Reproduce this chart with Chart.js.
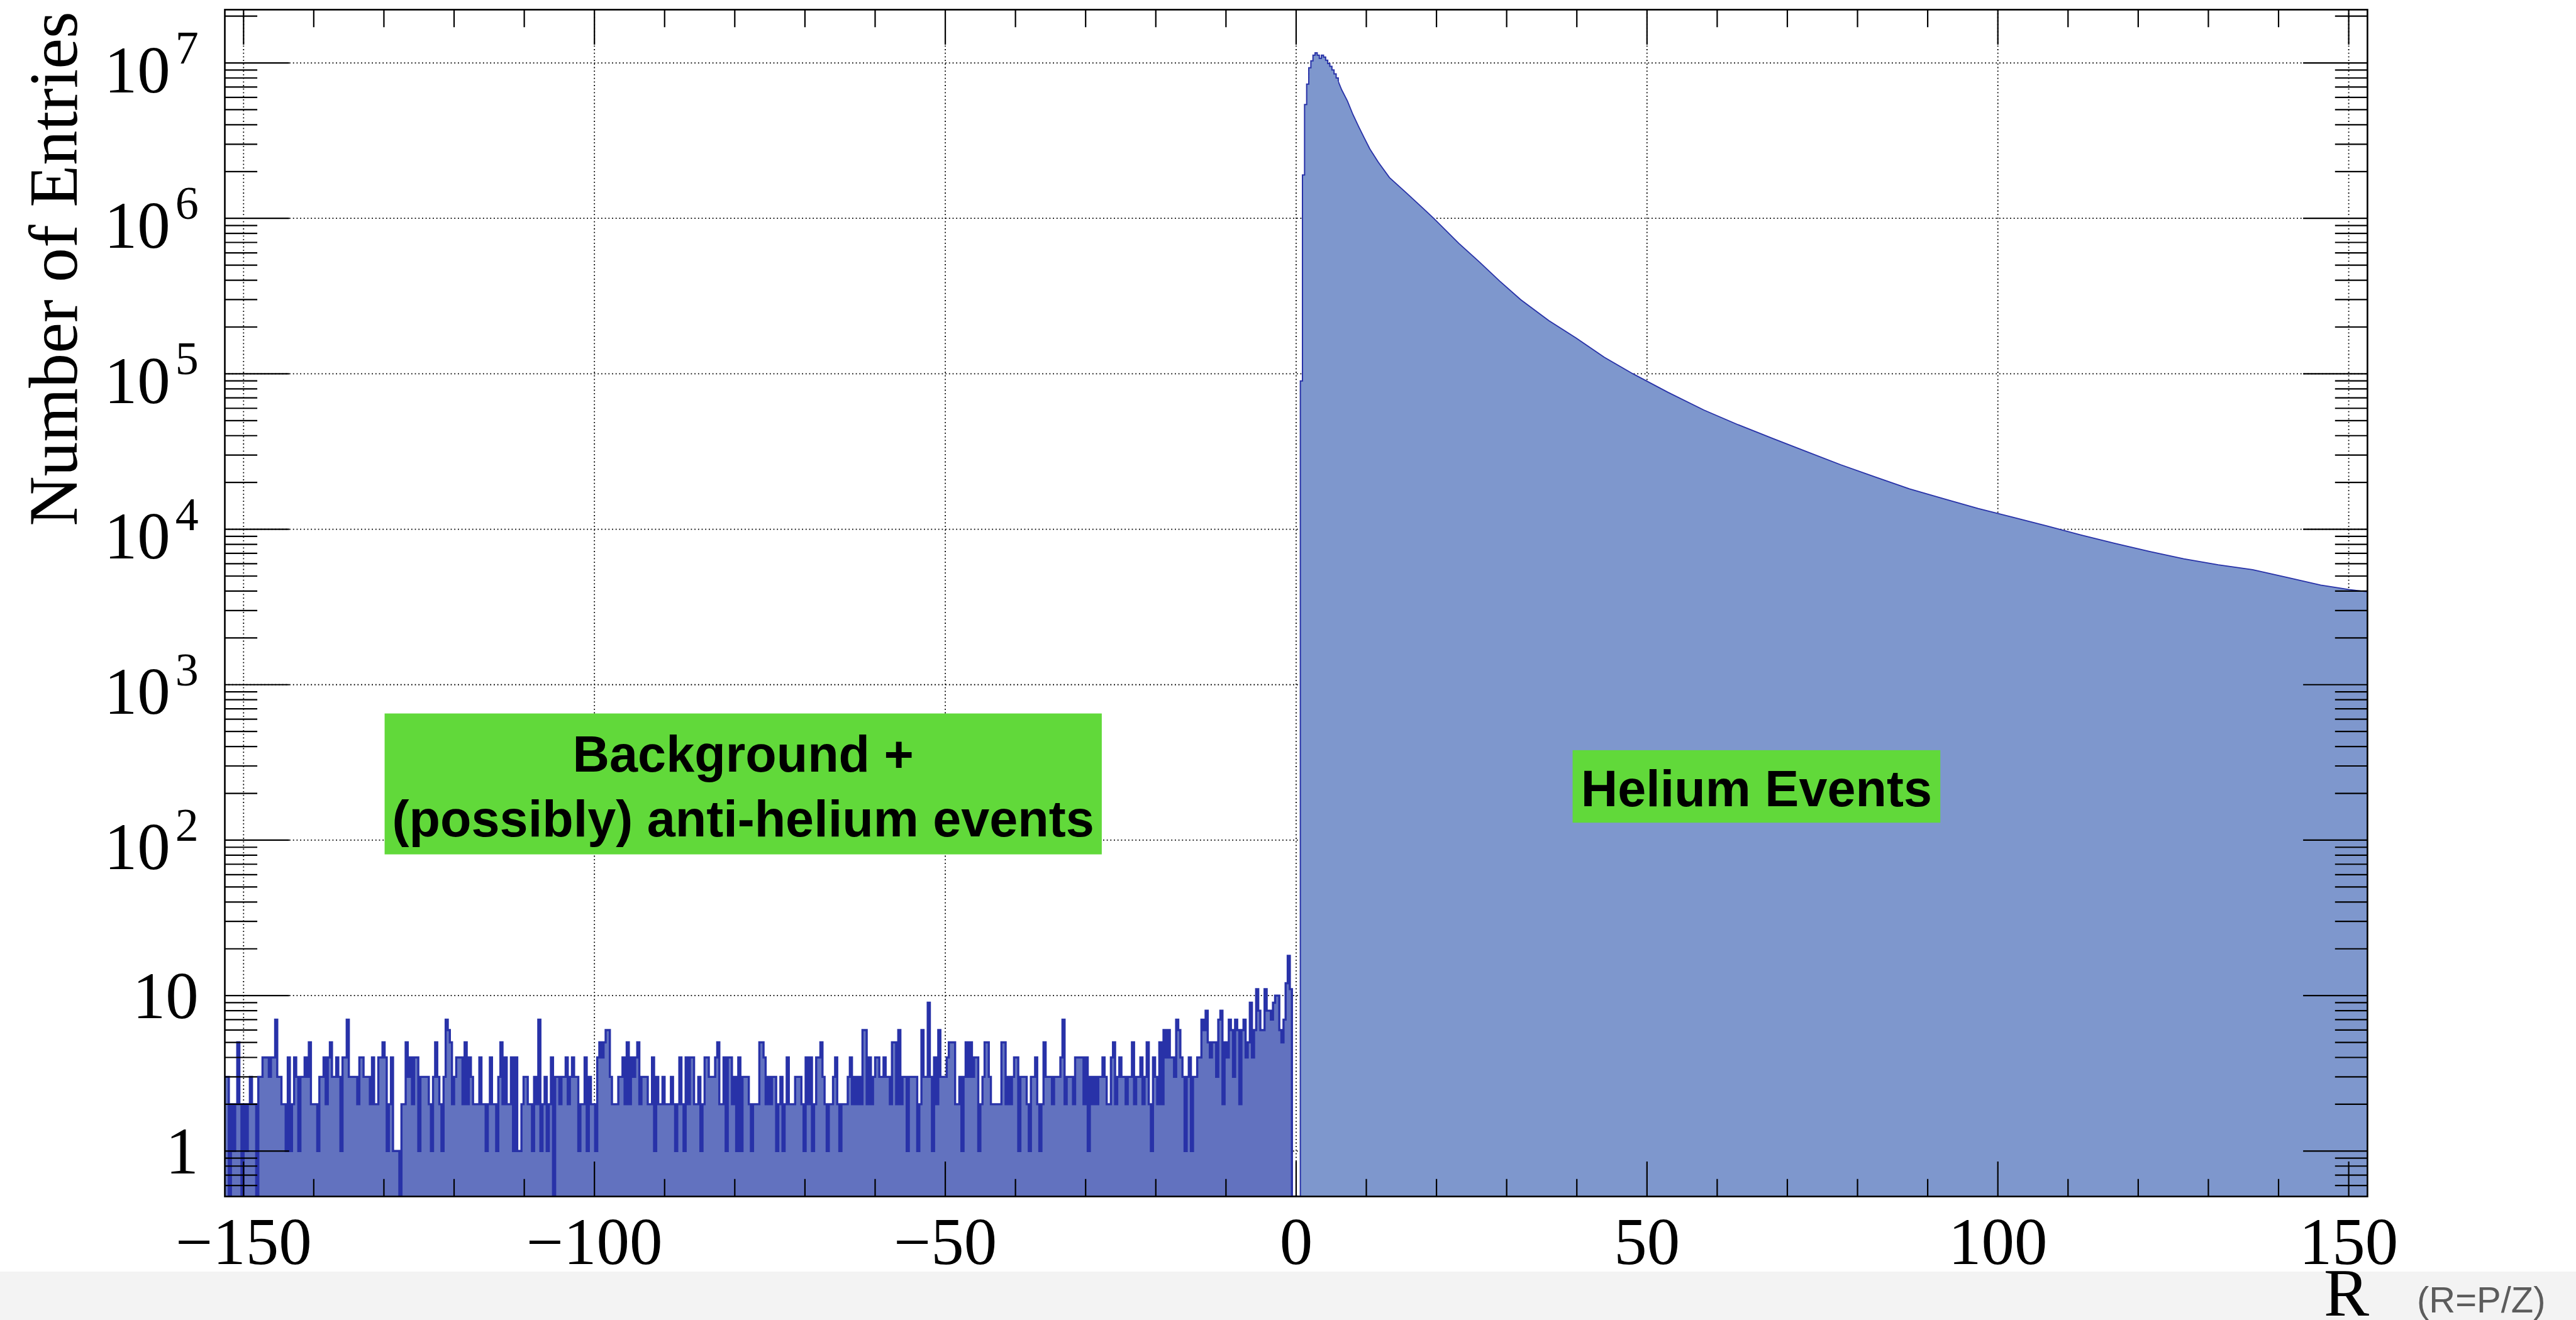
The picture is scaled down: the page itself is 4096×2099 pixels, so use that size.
<!DOCTYPE html>
<html><head><meta charset="utf-8">
<script src="https://cdn.jsdelivr.net/npm/chart.js@4.4.1/dist/chart.umd.min.js"></script>
<style>
html,body{margin:0;padding:0;background:#fff;overflow:hidden}
#wrap{position:relative;width:4096px;height:2099px}
#band{position:absolute;left:0;top:2022px;width:4096px;height:77px;background:#f3f3f3}
canvas{position:absolute;left:0;top:0}
</style></head><body>
<div id="wrap"><div id="band"></div><canvas id="c" width="4096" height="2099"></canvas></div>
<script>
// ---------------- data ----------------
const binStart = -152.7;   // left edge of first bin
const binWidth = 0.3;
// negative-rigidity background (counts per bin), read left to right
const countsA = [3,3,0,2,1,2,5,2,0,2, 1,2,3,2,2,0,3,3,4,4, 4,3,4,4,7,3,3,2,2,1, 4,1,2,4,3,1,3,3,4,3,
  5,2,2,2,1,3,3,4,2,4, 5,3,3,4,3,1,4,4,7,3, 3,3,3,2,4,4,3,3,3,2, 4,2,2,4,4,5,4,1,2,4,
  1,1,1,0,2,2,5,3,4,2, 4,4,1,3,3,3,3,2,1,3, 5,3,2,1,3,7,6,5,2,3, 4,4,4,2,5,2,4,3,2,2,
  2,4,2,2,1,2,4,2,2,1, 3,5,2,4,2,2,4,1,4,1, 1,2,3];
const countsB = [3,2,2,1,3,2,7,1,2,3, 1,2,4,0,3,3,2,3,3,4, 2,3,4,3,3,1,2,2,4,1, 3,2,2,1,4,5,4,5,6,6,
  3,2,2,2,3,3,4,2,5,2, 4,3,4,5,2,3,3,3,2,2, 4,1,3,2,2,3,2,2,2,3, 2,1,2,4,2,1,4,2,4,4,
  2,2,3,1,2,4,4,3,3,3, 4,5,2,2,4,1,4,4,2,3, 1,4,1,3,3,3,2,1,2,2, 2,5,5,4,2,3,2,3,3,1,
  2,3,1,2,4,2,2,2,3,3, 3,2,1,4,2,4,1,2,4,4, 5,3];
const countsC = [2,1,2,2,3,4,2,1,2,2, 2,3,4,2,3,2,3,2,6,6, 2,4,2,3,4,4,3,3,4,3, 3,2,5,5,2,6,2,3,3,1,
  3,3,3,3,1,2,6,3,3,9, 3,1,4,2,6,3,3,3,4,5, 5,5,2,2,3,1,3,5,3,5, 3,4,4,1,2,3,5,5,3,2,
  2,2,2,2,5,5,2,3,2,3, 4,4,1,3,3,3,2,1,3,3, 4,2,1,2,5,3,3,3,2,3, 3,3,4,7,2,3,3,3,2,4,
  4,4,4,2,4,1,3,2,3,2, 3,3,4,3,2,2,4,5,2,3, 4,3];
const countsD = [3,2,3,3,5,2,3,3,4,2, 3,5,2,1,4,3,2,5,2,6, 4,6,4,4,3,7,6,4,3,1, 3,4,1,3,3,4,4,7,6,8,
  5,4,5,5,3,7,8,2,5,4, 7,6,3,7,6,2,6,7,4,5, 9,4,6,11,8,6,6,11,8,8, 7,9,10,10,6,5,7,12,18,11, 0];
const countsGap = [0,0,0];
// helium peak, fine bins from R = 0.6 to 6.0
const countsPeak = [9.0e4,1.9e6,5.4e6,7.3e6,9.3e6,1.03e7,1.12e7,1.16e7,1.12e7,1.07e7,1.12e7,1.09e7,
  1.04e7,9.9e6,9.5e6,9.0e6,8.5e6,8.0e6];
// helium tail (R, entries)
const tailR = [5.7,6.0,6.5,7.3,8.1,8.9,9.7,10.5,11.7,13.3,15.7,18.1,19.6,23.2,26.0,29.0,32.0,36.0,39.9,43.9,48.0,
  53.0,58.1,63.0,67.9,72.8,77.6,82.5,87.4,92.3,97.2,102.0,107.0,111.8,116.7,121.6,126.5,131.4,136.3,141.2,146.0,150.0,152.7];
const tailN = [8.0e6,7.6e6,6.7e6,5.7e6,4.65e6,3.9e6,3.3e6,2.8e6,2.3e6,1.83e6,1.46e6,1.16e6,1.0e6,6.9e5,5.3e5,3.95e5,3.0e5,2.2e5,1.7e5,1.28e5,1.0e5,
  7.6e4,5.85e4,4.7e4,3.84e4,3.15e4,2.6e4,2.17e4,1.82e4,1.57e4,1.36e4,1.2e4,1.05e4,9.2e3,8.1e3,7.2e3,6.45e3,5.9e3,5.5e3,4.9e3,4.37e3,4.1e3,3.96e3];
// axes
const xMin = -152.67, xMax = 152.67, yMin = 0.51, yMax = 2.2e7;
const xMajorTicks = [-150,-100,-50,0,50,100,150];
const xTickLabels = ['\u2212150','\u2212100','\u221250','0','50','100','150'];
const xMinorTicks = [-140,-130,-120,-110,-90,-80,-70,-60,-40,-30,-20,-10,10,20,30,40,60,70,80,90,110,120,130,140];
const yMajorTicks = [1,10,100,1e3,1e4,1e5,1e6,1e7];
const yMinorMult = [2,3,4,5,6,7,8,9];
// annotation boxes (data coordinates)
const notes = [
  {x0:-129.9, x1:-27.7, yTop:653, yBot:81, lines:['Background +','(possibly) anti-helium events'], base:[92.3,195.6]},
  {x0:39.4, x1:91.8, yTop:379, yBot:129.5, lines:['Helium Events'], base:[89.4]}
];

// ---------------- build datasets ----------------
const binCounts = [].concat(countsA, countsB, countsC, countsD, countsGap, countsPeak);
const histPts = binCounts.map((c, i) => ({x: binStart + binWidth * i, y: c > 0 ? c : yMin}));
histPts.push({x: tailR[1], y: tailN[1]});
const tailPts = tailR.map((r, i) => ({x: r, y: tailN[i]}));

const FILL = '#7e97cd', NOISE_FILL = '#6272bf', LINE = '#2832a8';
const SERIF = '"Liberation Serif", "Times New Roman", serif';
const isNoise = c => c.p1.parsed.x < 0.5;

const rootPlugin = {
  id: 'rootFrame',
  beforeDatasetsDraw(chart) {
    const {ctx, chartArea: a, scales: {x, y}} = chart;
    ctx.save();
    ctx.strokeStyle = '#000';
    ctx.lineWidth = 1.8;
    ctx.setLineDash([1.8, 3.9]);
    ctx.beginPath();
    xMajorTicks.forEach(v => { const p = x.getPixelForValue(v); ctx.moveTo(p, a.top); ctx.lineTo(p, a.bottom); });
    yMajorTicks.forEach(v => { const p = y.getPixelForValue(v); ctx.moveTo(a.left, p); ctx.lineTo(a.right, p); });
    ctx.stroke();
    ctx.restore();
  },
  afterDatasetsDraw(chart) {
    const {ctx, chartArea: a, scales: {x, y}} = chart;
    ctx.save();
    // annotation boxes
    notes.forEach(b => {
      const x0 = x.getPixelForValue(b.x0), x1 = x.getPixelForValue(b.x1);
      const y0 = y.getPixelForValue(b.yTop), y1 = y.getPixelForValue(b.yBot);
      ctx.fillStyle = '#61d93a';
      ctx.fillRect(x0, y0, x1 - x0, y1 - y0);
      ctx.fillStyle = '#000';
      ctx.font = 'bold 81px "Liberation Sans", Arial, sans-serif';
      ctx.textAlign = 'center';
      ctx.textBaseline = 'alphabetic';
      b.lines.forEach((t, i) => ctx.fillText(t, (x0 + x1) / 2, y0 + b.base[i]));
    });
    // ticks
    ctx.strokeStyle = '#000';
    ctx.lineWidth = 2.2;
    ctx.beginPath();
    const xt = (v, len) => { const p = x.getPixelForValue(v);
      ctx.moveTo(p, a.bottom); ctx.lineTo(p, a.bottom - len);
      ctx.moveTo(p, a.top); ctx.lineTo(p, a.top + len); };
    xMajorTicks.forEach(v => xt(v, 55.6));
    xMinorTicks.forEach(v => xt(v, 27.8));
    const yt = (v, len) => { const p = y.getPixelForValue(v);
      ctx.moveTo(a.left, p); ctx.lineTo(a.left + len, p);
      ctx.moveTo(a.right, p); ctx.lineTo(a.right - len, p); };
    yMajorTicks.forEach(v => yt(v, 102.3));
    [0.1].concat(yMajorTicks).forEach(d => yMinorMult.forEach(m => {
      const v = d * m; if (v > yMin && v < yMax) yt(v, 51.6);
    }));
    ctx.stroke();
    // frame
    ctx.lineWidth = 2.6;
    ctx.strokeRect(a.left, a.top, a.right - a.left, a.bottom - a.top);
    // x tick labels
    ctx.fillStyle = '#000';
    ctx.font = '105px ' + SERIF;
    ctx.textAlign = 'center';
    ctx.textBaseline = 'alphabetic';
    xMajorTicks.forEach((v, i) => ctx.fillText(xTickLabels[i], x.getPixelForValue(v), a.bottom + 107.5));
    // y tick labels
    const right = a.left - 41.7;
    const mainF = '105px ' + SERIF, supF = '74px ' + SERIF;
    yMajorTicks.forEach(v => {
      const p = y.getPixelForValue(v);
      const n = Math.round(Math.log10(v));
      ctx.textAlign = 'left';
      if (n <= 1) {
        ctx.font = mainF;
        const t = n === 0 ? '1' : '10';
        ctx.fillText(t, right - ctx.measureText(t).width, p + 36);
      } else {
        ctx.font = supF;
        const ws = ctx.measureText(String(n)).width;
        ctx.font = mainF;
        const wm = ctx.measureText('10').width;
        ctx.fillText('10', right - ws - 8 - wm, p + 46.5);
        ctx.font = supF;
        ctx.fillText(String(n), right - ws, p + 1);
      }
    });
    // axis titles
    ctx.save();
    ctx.translate(121.6, 427.5);
    ctx.rotate(-Math.PI / 2);
    ctx.font = '110px ' + SERIF;
    ctx.textAlign = 'center';
    ctx.fillText('Number of Entries', 0, 0);
    ctx.restore();
    ctx.font = '108px ' + SERIF;
    ctx.textAlign = 'right';
    ctx.fillText('R', a.right + 2.6, 2092);
    ctx.font = '58px "Liberation Sans", Arial, sans-serif';
    ctx.fillStyle = '#5c5c5c';
    ctx.textAlign = 'left';
    ctx.fillText('(R=P/Z)', 3843, 2087);
    ctx.restore();
  }
};

new Chart(document.getElementById('c'), {
  type: 'line',
  data: {datasets: [
    {data: histPts, stepped: 'before', borderColor: LINE, backgroundColor: FILL, borderWidth: 2,
     fill: 'start', pointRadius: 0, tension: 0,
     segment: {borderWidth: c => (isNoise(c) ? 3.4 : 2), backgroundColor: c => (isNoise(c) ? NOISE_FILL : FILL)}},
    {data: tailPts, borderColor: LINE, backgroundColor: FILL, borderWidth: 1.8,
     fill: 'start', pointRadius: 0, tension: 0}
  ]},
  options: {
    responsive: false, devicePixelRatio: 1, animation: false,
    layout: {padding: {left: 357.5, right: 331.6, top: 15.4, bottom: 196.4}},
    plugins: {legend: {display: false}, tooltip: {enabled: false}},
    scales: {
      x: {type: 'linear', min: xMin, max: xMax, display: false},
      y: {type: 'logarithmic', min: yMin, max: yMax, display: false}
    }
  },
  plugins: [rootPlugin]
});
</script></body></html>
